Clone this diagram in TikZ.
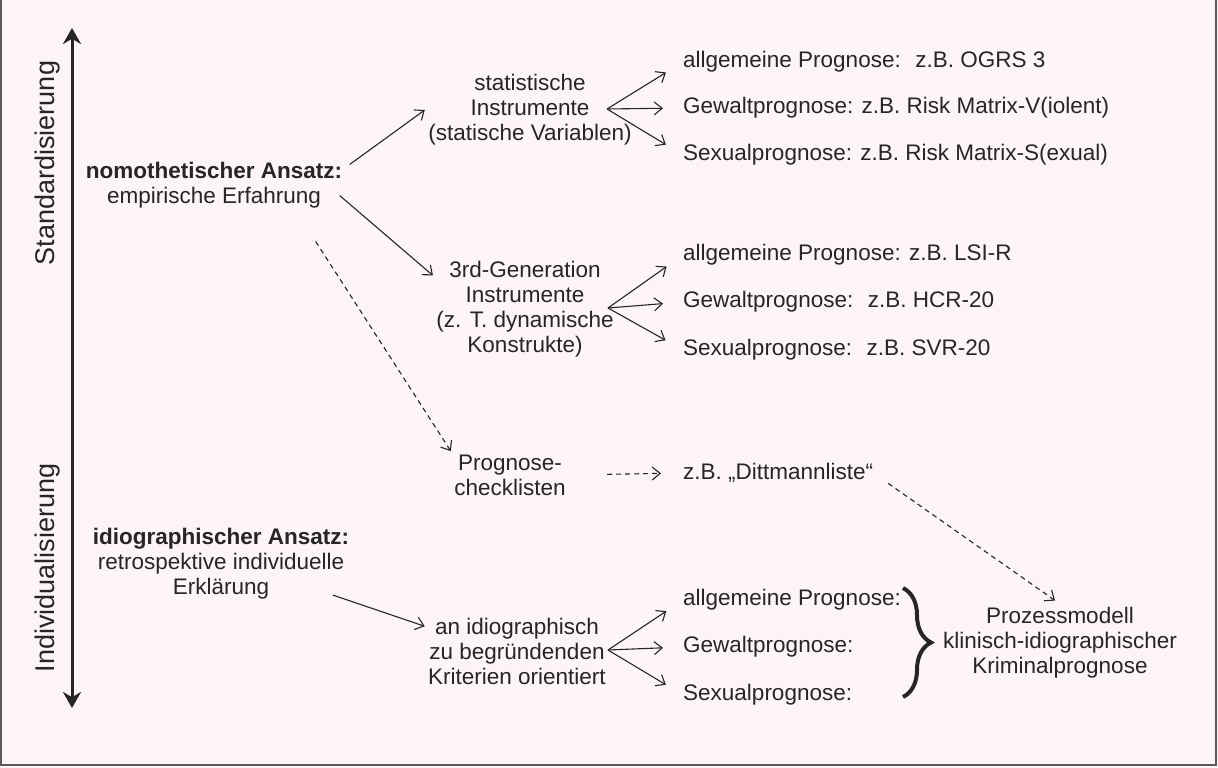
\documentclass[tikz,border=0pt]{standalone}
\usepackage{fontspec}
\setmainfont{Liberation Sans}
\usetikzlibrary{arrows.meta,decorations.pathreplacing}
\definecolor{paper}{RGB}{252,244,245}
\definecolor{ink}{RGB}{38,38,38}
\definecolor{rim}{RGB}{90,90,90}
\begin{document}
\begin{tikzpicture}[x=1pt,y=-1pt,color=ink,font=\fontsize{22.5}{25}\selectfont,
  >={Straight Barb[length=8pt,width=13pt]},
  lbl/.style={align=center},
  item/.style={anchor=west,inner sep=0pt},
  axislbl/.style={rotate=90,font=\fontsize{27}{30}\selectfont},
  fan/.style={->,line width=1.1pt,shorten >=20pt},
  weak/.style={->,line width=1.1pt,dash pattern=on 5pt off 4pt}]
  \useasboundingbox (0,0) rectangle (1218,768);
  \fill[paper] (0,0) rectangle (1218,768);
  \draw[rim,line width=2pt] (1,0) -- (1,765) -- (1216,765) -- (1216,0);

  \coordinate (top) at (72,28);
  \coordinate (bot) at (72,708);
  \draw[line width=3pt,{Stealth[length=16pt,width=18pt]}-{Stealth[length=16pt,width=18pt]}] (top) -- (bot);
  \node(std)[axislbl] at (48,163) {Standardisierung};
  \node(ind)[axislbl] at (48,568) {Individualisierung};

  \node(nomo)[lbl] at (214,185) {\textbf{nomothetischer Ansatz:}\\empirische Erfahrung};
  \node(idio)[lbl] at (221,564) {\textbf{idiographischer Ansatz:}\\retrospektive individuelle\\Erklärung};
  \node(stat)[lbl] at (530,110) {statistische\\Instrumente\\(statische Variablen)};
  \node(gen3)[lbl] at (525,309) {3rd-Generation\\Instrumente\\(z. T. dynamische\\Konstrukte)};
  \node(check)[lbl] at (510,475) {Prognose-\\checklisten};
  \node(krit)[lbl] at (517,651) {an idiographisch\\zu begründenden\\Kriterien orientiert};
  \node(ditt)[item] at (683,473) {z.B. „Dittmannliste“};
  \node(proz)[lbl] at (1060,643) {Prozessmodell\\klinisch-idiographischer\\Kriminalprognose};

  \node(a1)[item] at (683,62) {allgemeine Prognose:~ z.B. OGRS 3};
  \node(g1)[item] at (683,108) {Gewaltprognose: z.B. Risk Matrix-V(iolent)};
  \node(s1)[item] at (683,155) {Sexualprognose: z.B. Risk Matrix-S(exual)};
  \node(a2)[item] at (683,255) {allgemeine Prognose: z.B. LSI-R};
  \node(g2)[item] at (683,302) {Gewaltprognose:~ z.B. HCR-20};
  \node(s2)[item] at (683,350) {Sexualprognose:~ z.B. SVR-20};
  \node(a3)[item] at (683,600) {allgemeine Prognose:};
  \node(g3)[item] at (683,647) {Gewaltprognose:};
  \node(s3)[item] at (683,695) {Sexualprognose:};

  \coordinate (f1) at (607,109);
  \coordinate (f2) at (608,308);
  \coordinate (f3) at (608,650);

  \path[->,line width=1.1pt]
            ([xshift=4pt,yshift=-6pt]nomo.north east) edge (stat.west)
            ([xshift=-6pt,yshift=16pt]nomo.south east) edge (gen3.160)
            ([xshift=-20pt,yshift=8pt]idio.south east) edge (krit.165);
  \path[fan] (f1) edge (a1.west) (f1) edge (g1.west) (f1) edge (s1.west)
             (f2) edge (a2.west) (f2) edge (g2.west) (f2) edge (s2.west)
             (f3) edge (a3.west) (f3) edge (g3.west) (f3) edge (s3.west);
  \path[weak] ([xshift=-30pt,yshift=-30pt]nomo.south east) edge (check.north west)
              (check.east) edge[shorten <=38pt,shorten >=22pt] (ditt.west)
              (ditt.east) edge[shorten <=18pt,shorten >=6pt] (proz.north);

  \draw[decorate,decoration={brace,amplitude=28pt,aspect=0.5},line width=4pt]
    (903,588) -- (903,697);
\end{tikzpicture}
\end{document}
